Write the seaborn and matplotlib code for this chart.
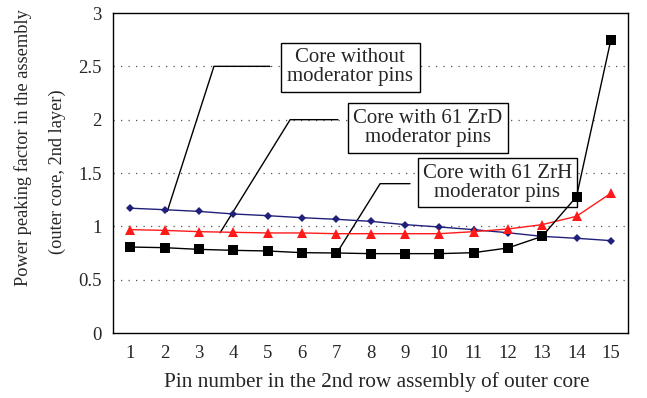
import matplotlib
matplotlib.use("Agg")
import matplotlib.pyplot as plt
from matplotlib.patches import Rectangle
import seaborn as sns
import pandas as pd
import numpy as np

pins = list(range(1, 16))
no_mod = [1.17, 1.156, 1.14, 1.116, 1.10, 1.081, 1.066, 1.047, 1.016, 0.994, 0.969, 0.94, 0.906, 0.888, 0.866]
zrd = [0.969, 0.962, 0.95, 0.944, 0.938, 0.938, 0.931, 0.931, 0.931, 0.931, 0.95, 0.975, 1.016, 1.094, 1.31]
zrh = [0.806, 0.80, 0.784, 0.775, 0.769, 0.753, 0.75, 0.744, 0.744, 0.744, 0.753, 0.797, 0.906, 1.278, 2.747]
series_names = ["Core without\nmoderator pins", "Core with 61 ZrD\nmoderator pins", "Core with 61 ZrH\nmoderator pins"]
y_ticks = [0, 0.5, 1, 1.5, 2, 2.5, 3]
y_tick_labels = ["0", "0.5", "1", "1.5", "2", "2.5", "3"]
x_label = "Pin number in the 2nd row assembly of outer core"
y_label_1 = "Power peaking factor in the assembly"
y_label_2 = "(outer core, 2nd layer)"

df = pd.DataFrame({
    "pin": pins * 3,
    "value": no_mod + zrd + zrh,
    "series": [series_names[0]] * 15 + [series_names[1]] * 15 + [series_names[2]] * 15,
})

sns.set_style("white")
plt.rcParams["font.family"] = ["Liberation Serif", "DejaVu Serif"]

W, H = 647, 398
fig = plt.figure(figsize=(W / 100, H / 100), dpi=100)
ax = fig.add_axes([113 / W, 1 - 333 / H, (628 - 113) / W, (333 - 13) / H])

palette = {series_names[0]: "#20207a", series_names[1]: "#ff1a1a", series_names[2]: "#000000"}
markers = {series_names[0]: "D", series_names[1]: "^", series_names[2]: "s"}
sizes_m = {series_names[0]: 4.5, series_names[1]: 7, series_names[2]: 6.5}

for name in series_names:
    sub = df[df["series"] == name]
    sns.lineplot(data=sub, x="pin", y="value", color=palette[name], marker=markers[name],
                 markersize=sizes_m[name], markeredgewidth=0, linewidth=1.0, ax=ax,
                 legend=False, zorder=7)

ax.set_xlim(0.5, 15.5)
ax.set_ylim(0, 3)
ax.set_yticks(y_ticks)
ax.set_yticklabels(y_tick_labels)
ax.set_xticks(pins)
ax.set_xticks(np.arange(1.5, 15.0, 1.0), minor=True)
ax.tick_params(axis="x", which="major", length=0, pad=9, labelsize=13.5)
ax.tick_params(axis="x", which="minor", length=3, direction="in", width=0.8, color="black")
ax.tick_params(axis="y", length=0, pad=8, labelsize=13.5)
for v in y_ticks[1:-1]:
    ax.axhline(v, color="#555555", linestyle=(0, (1, 5)), linewidth=0.9, zorder=1)
for s in ax.spines.values():
    s.set_color("black")
    s.set_linewidth(1.0)

ax.set_xlabel("")
ax.set_ylabel("")
fig.text(377 / W, 1 - 382 / H, x_label, ha="center", va="center", fontsize=15.3)
fig.text(23 / W, 1 - 148 / H, y_label_1, ha="center", va="center", rotation=90, fontsize=13.2)
fig.text(57 / W, 1 - 172 / H, y_label_2, ha="center", va="center", rotation=90, fontsize=13.2)

# callouts: (text, box x0, x1, y0, y1, leader points)
boxes = [
    (series_names[0], 5.39, 9.44, 2.26, 2.72, [(5.07, 2.5), (3.44, 2.5), (2.08, 1.14)]),
    (series_names[1], 7.34, 12.0, 1.69, 2.156, [(7.05, 2.0), (5.66, 2.0), (3.62, 0.94)]),
    (series_names[2], 9.38, 14.01, 1.18, 1.64, [(9.15, 1.40), (8.28, 1.40), (7.02, 0.75)]),
]
for text, x0, x1, y0, y1, pts in boxes:
    xs = [p[0] for p in pts]
    ys = [p[1] for p in pts]
    ax.plot(xs, ys, color="black", linewidth=1.0, zorder=4)
    ax.add_patch(Rectangle((x0, y0), x1 - x0, y1 - y0, facecolor="white", edgecolor="black",
                           linewidth=1.0, zorder=5))
    ax.text((x0 + x1) / 2, (y0 + y1) / 2, text, ha="center", va="center", fontsize=15,
            linespacing=1.0, zorder=6)

fig.savefig("out.png", dpi=100)
